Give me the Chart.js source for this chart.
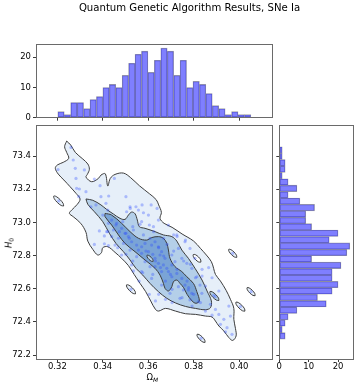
<!DOCTYPE html>
<html>
<head>
<meta charset="utf-8">
<title>Quantum Genetic Algorithm Results, SNe Ia</title>
<script src="https://cdn.jsdelivr.net/npm/chart.js@4.4.1/dist/chart.umd.min.js"></script>
<style>
html,body{margin:0;padding:0;background:#fff;overflow:hidden;}
#fig{position:relative;width:357px;height:386px;font-family:"DejaVu Sans",sans-serif;color:#000;}
#fig canvas{position:absolute;left:0;top:0;}
.txt{position:absolute;white-space:nowrap;line-height:1;}
.sub{font-size:70%;position:relative;top:0.3em;}
</style>
</head>
<body>
<div id="fig">
  <canvas id="topHist" width="357" height="386"></canvas>
  <canvas id="joint" width="357" height="386"></canvas>
  <canvas id="rightHist" width="357" height="386"></canvas>
  <div class="txt" id="title" style="left:0;width:379px;top:3px;text-align:center;font-size:10.15px;">Quantum Genetic Algorithm Results, SNe Ia</div>
  <div class="txt" id="xlab" style="left:146.5px;top:372.8px;font-size:8.46px;">Ω<span class="sub"><i>M</i></span></div>
  <div class="txt" id="ylab" style="left:8.5px;top:242.5px;font-size:8.46px;transform:translate(-50%,-50%) rotate(-90deg);"><i>H</i><span class="sub">0</span></div>
</div>
<script>
// ---------- axis ranges and ticks ----------
const omegaRange = [0.3106, 0.4145];
const h0Range = [72.176, 73.587];
const topCountRange = [0, 24.15];
const rightCountRange = [0, 25.2];
const omegaTicks = [0.32, 0.34, 0.36, 0.38, 0.40];
const omegaTickLabels = ['0.32', '0.34', '0.36', '0.38', '0.40'];
const h0Ticks = [72.2, 72.4, 72.6, 72.8, 73.0, 73.2, 73.4];
const h0TickLabels = ['72.2', '72.4', '72.6', '72.8', '73.0', '73.2', '73.4'];
const countTicks = [0, 10, 20];
const countTickLabels = ['0', '10', '20'];

// ---------- marginal histogram of Omega_M ----------
const omegaBinCenters = [0.32162,0.32445,0.32728,0.33012,0.33295,0.33578,0.33862,0.34145,0.34428,0.34712,
  0.34995,0.35278,0.35562,0.35845,0.36128,0.36412,0.36695,0.36978,0.37262,0.37545,
  0.37828,0.38112,0.38395,0.38678,0.38962,0.39245,0.39528,0.39812,0.40095,0.40378];
const omegaCounts = [2,1,5,5,3,6,7,10,11,10,14,18,21,22,15,19,23,22,14,19,10,12,11,8,4,3,1,2,1,1];

// ---------- marginal histogram of H0 ----------
const h0BinCenters = [72.3153,72.3540,72.3927,72.4313,72.4700,72.5087,72.5473,72.5860,72.6247,72.6633,
  72.7020,72.7407,72.7793,72.8180,72.8567,72.8953,72.9340,72.9727,73.0113,73.0500,
  73.0887,73.1273,73.1660,73.2047,73.2433,73.2820,73.3207,73.3593,73.3980,73.4367];
const h0Counts = [2,1,2,3,6,16,13,18,20,18,18,21,11,23,24,17,20,11,9,9,12,7,3,6,3,1,2,2,1,1];

// ---------- samples (Omega_M, H0) ----------
const samples = [
  [0.3260,73.452],[0.3270,73.376],[0.3279,73.326],[0.3319,73.316],[0.3282,73.265],[0.3285,73.205],[0.3297,73.201],[0.3294,73.155],[0.3326,73.185],[0.3363,73.261],
  [0.3388,73.221],[0.3392,73.155],[0.3426,73.159],[0.3451,73.265],[0.3502,73.155],[0.3521,73.084],[0.3546,73.094],[0.3573,73.105],[0.3579,73.058],[0.3564,72.988],
  [0.3370,73.105],[0.3348,73.094],[0.3400,73.044],[0.3422,73.074],[0.3414,73.115],[0.3458,72.984],[0.3473,72.944],[0.3385,72.948],[0.3407,72.918],[0.3422,72.944],
  [0.3613,73.105],[0.3605,72.984],[0.3517,72.904],[0.3502,72.934],[0.3488,73.004],[0.3532,72.974],
  [0.3639,73.084],[0.3712,72.924],[0.3727,72.914],[0.3764,72.893],[0.3624,72.944],[0.3668,72.904],
  [0.3363,72.867],[0.3407,72.871],[0.3466,72.847],[0.3502,72.807],[0.3532,72.767],[0.3535,72.707],[0.3560,72.646],[0.3576,72.696],[0.3590,72.827],[0.3620,72.807],
  [0.3605,72.566],[0.3620,72.686],
  [0.3756,72.767],[0.3786,72.747],[0.3808,72.666],[0.3837,72.676],[0.3852,72.616],[0.3778,72.606],[0.3749,72.546],[0.3705,72.516],[0.3676,72.536],[0.3646,72.566],
  [0.3632,72.526],[0.3874,72.506],[0.3896,72.475],[0.3911,72.445],[0.3933,72.415],[0.3947,72.365],[0.3918,72.385],[0.3881,72.440],[0.3852,72.465],[0.3962,72.435],
  [0.3969,72.325],[0.3940,72.340],[0.3837,72.717],[0.3866,72.727],[0.3881,72.666],[0.3911,72.586],[0.3712,72.827],[0.3727,72.717],[0.3676,72.646],[0.3698,72.686],
  [0.3654,72.727],[0.3705,72.596],[0.3771,72.646],[0.3800,72.566],[0.3830,72.516],[0.3793,72.495],[0.3955,72.495],[0.3632,72.767],[0.3668,72.797],[0.3646,72.847],
  [0.3683,72.867],
  [0.3439,73.014],[0.3461,72.994],[0.3483,72.964],[0.3498,72.934],[0.3513,72.914],[0.3527,72.883],[0.3549,72.863],[0.3571,72.853],[0.3586,72.873],[0.3615,72.863],
  [0.3630,72.883],[0.3645,72.853],[0.3659,72.823],[0.3674,72.783],[0.3667,72.743],[0.3645,72.753],[0.3630,72.783],[0.3601,72.823],[0.3571,72.813],[0.3557,72.833],
  [0.3689,72.703],[0.3704,72.672],[0.3726,72.692],[0.3748,72.662],[0.3762,72.622],[0.3777,72.592],[0.3792,72.572],[0.3755,72.592],[0.3733,72.612],[0.3704,72.743],
  [0.3682,72.723],[0.3659,72.703],[0.3630,72.733],[0.3608,72.733],[0.3586,72.763],[0.3549,72.793],[0.3520,72.833],[0.3491,72.873],[0.3469,72.904],[0.3447,72.954],
  [0.3425,72.994],[0.3535,72.954],[0.3579,72.924],[0.3608,72.904],[0.3652,72.803],[0.3704,72.803],[0.3718,72.763],[0.3733,72.843],[0.3726,72.924],[0.3762,72.883],
  [0.3784,72.843],[0.3806,72.783],[0.3792,72.723],[0.3770,72.753],[0.3748,72.783],[0.3814,72.672],[0.3828,72.622],[0.3836,72.572],[0.3505,73.064],[0.3557,73.074],
  [0.3601,73.044],[0.3645,73.014],[0.3689,72.984],[0.3520,73.094],[0.3571,73.004],[0.3623,72.974],[0.3454,72.863],[0.3483,72.803],[0.3527,72.743],[0.3571,72.703],
  [0.3615,72.662],[0.3659,72.622],[0.3696,72.572],[0.3740,72.542],[0.3784,72.532],[0.3821,72.522],[0.3425,72.860],[0.3439,72.914],[0.3417,72.944],
  [0.3206,73.129],[0.3203,73.318],[0.3524,72.596],[0.3972,72.813],[0.4053,72.582],[0.4006,72.492],[0.3833,72.301],[0.3888,72.560],[0.3895,72.552]
];

// ---------- density contours (Omega_M, H0) ----------
const contourOuter = [
  [0.3241,73.490],[0.3259,73.466],[0.3279,73.422],[0.3312,73.382],[0.3334,73.352],[0.3341,73.320],[0.3332,73.289],[0.3326,73.273],[0.3351,73.245],[0.3381,73.265],
  [0.3392,73.285],[0.3411,73.293],[0.3422,73.219],[0.3433,73.265],[0.3454,73.289],[0.3491,73.297],[0.3523,73.269],[0.3561,73.221],[0.3605,73.173],[0.3635,73.137],
  [0.3646,73.105],[0.3658,73.060],[0.3652,73.024],[0.3670,72.994],[0.3705,72.970],[0.3749,72.930],[0.3800,72.887],[0.3830,72.843],[0.3856,72.803],[0.3878,72.763],
  [0.3888,72.723],[0.3896,72.686],[0.3918,72.646],[0.3943,72.590],[0.3962,72.536],[0.3977,72.481],[0.3977,72.415],[0.3984,72.361],[0.3987,72.315],[0.3972,72.288],
  [0.3955,72.305],[0.3933,72.345],[0.3911,72.375],[0.3896,72.405],[0.3881,72.429],[0.3852,72.435],[0.3808,72.445],[0.3764,72.449],[0.3720,72.465],[0.3676,72.481],
  [0.3646,72.465],[0.3632,72.475],[0.3611,72.526],[0.3589,72.582],[0.3564,72.632],[0.3538,72.686],[0.3513,72.739],[0.3483,72.783],[0.3454,72.819],[0.3422,72.853],
  [0.3400,72.847],[0.3394,72.817],[0.3378,72.803],[0.3356,72.837],[0.3334,72.887],[0.3326,72.940],[0.3303,72.994],[0.3270,73.034],[0.3253,73.054],[0.3263,73.074],
  [0.3288,73.109],[0.3300,73.141],[0.3282,73.175],[0.3256,73.215],[0.3229,73.255],[0.3204,73.291],[0.3191,73.326],[0.3200,73.346],[0.3226,73.362],[0.3250,73.386],
  [0.3241,73.422],[0.3232,73.456]
];
const contourMiddle = [
  [0.3326,73.141],[0.3356,73.133],[0.3392,73.105],[0.3417,73.078],[0.3447,73.050],[0.3476,73.024],[0.3498,73.018],[0.3513,73.044],[0.3527,73.062],[0.3542,73.052],
  [0.3552,73.014],[0.3561,72.974],[0.3586,72.964],[0.3630,72.944],[0.3667,72.924],[0.3704,72.914],[0.3726,72.887],[0.3748,72.833],[0.3777,72.783],[0.3806,72.723],
  [0.3837,72.652],[0.3859,72.586],[0.3878,72.526],[0.3874,72.485],[0.3852,72.473],[0.3808,72.481],[0.3764,72.493],[0.3720,72.514],[0.3682,72.542],[0.3645,72.582],
  [0.3608,72.632],[0.3576,72.682],[0.3546,72.723],[0.3520,72.773],[0.3491,72.823],[0.3458,72.873],[0.3429,72.934],[0.3400,73.004],[0.3363,73.064],[0.3334,73.109]
];
const contourInner = [
  [0.3410,73.054],[0.3439,73.044],[0.3483,72.994],[0.3520,72.944],[0.3557,72.904],[0.3593,72.893],[0.3615,72.908],[0.3645,72.914],[0.3667,72.904],[0.3682,72.873],
  [0.3689,72.833],[0.3696,72.783],[0.3718,72.733],[0.3748,72.703],[0.3770,72.672],[0.3799,72.632],[0.3814,72.582],[0.3825,72.526],[0.3810,72.512],[0.3793,72.526],
  [0.3771,72.566],[0.3756,72.606],[0.3740,72.632],[0.3726,72.652],[0.3711,72.642],[0.3704,72.612],[0.3689,72.586],[0.3674,72.602],[0.3667,72.632],[0.3652,72.682],
  [0.3630,72.723],[0.3586,72.773],[0.3542,72.823],[0.3498,72.873],[0.3469,72.924],[0.3439,72.984],[0.3410,73.034]
];
// small closed contours (islands and holes)
const islandsOuter = [
  [[0.32277,73.0988],[0.32257,73.1135],[0.32121,73.1371],[0.31949,73.1557],[0.31841,73.1585],[0.31861,73.1437],[0.31997,73.1201],[0.32169,73.1015]],
  [[0.35441,72.5690],[0.35428,72.5829],[0.35306,72.6045],[0.35149,72.6211],[0.35047,72.6230],[0.35061,72.6091],[0.35182,72.5875],[0.35339,72.5709]],
  [[0.39899,72.7889],[0.39887,72.8015],[0.39779,72.8209],[0.39638,72.8357],[0.39546,72.8373],[0.39557,72.8247],[0.39665,72.8053],[0.39806,72.7905]],
  [[0.40706,72.5577],[0.40694,72.5703],[0.40586,72.5897],[0.40445,72.6045],[0.40353,72.6061],[0.40364,72.5935],[0.40472,72.5741],[0.40613,72.5593]],
  [[0.40256,72.4645],[0.40243,72.4784],[0.40121,72.5000],[0.39964,72.5166],[0.39862,72.5185],[0.39876,72.5046],[0.39997,72.4830],[0.40154,72.4664]],
  [[0.38504,72.2763],[0.38492,72.2889],[0.38384,72.3083],[0.38243,72.3231],[0.38151,72.3247],[0.38162,72.3121],[0.38270,72.2927],[0.38411,72.2779]]
];
const islandMiddle = [[0.39111,72.5288],[0.39098,72.5427],[0.38976,72.5643],[0.38819,72.5809],[0.38717,72.5828],[0.38731,72.5689],[0.38852,72.5473],[0.39009,72.5307]];
const holeOuter = [[0.38317,72.7602],[0.38313,72.7729],[0.38213,72.7914],[0.38078,72.8050],[0.37985,72.8056],[0.37990,72.7930],[0.38089,72.7744],[0.38224,72.7608]];
const holeInner = [[0.36216,72.7644],[0.36209,72.7744],[0.36128,72.7893],[0.36019,72.8005],[0.35946,72.8014],[0.35953,72.7914],[0.36034,72.7765],[0.36143,72.7653]];

// ---------- styles ----------
const FONT = "'DejaVu Sans', sans-serif";
Chart.defaults.font.family = FONT;
Chart.defaults.color = '#000';
const FRAME = '#6a6a6a';
const TICK = '#3a3a3a';
const TICK_FONT = {family: FONT, size: 8.46};
const BAR_FILL = 'rgba(0,0,255,0.5)';
const BAR_EDGE = 'rgba(140,140,140,0.8)';
const LEVEL_COLORS = ['rgb(230,239,249)', 'rgb(180,207,233)', 'rgb(122,164,214)'];
const CONTOUR_LINE = '#3c3c3c';
const POINT_COLOR = 'rgba(40,70,255,0.32)';

const toXY = arr => arr.map(p => ({x: p[0], y: p[1]}));
const closed = arr => toXY(arr.concat([arr[0]]));
const fixTicks = vals => (s => { s.ticks = vals.map(v => ({value: v})); });
const common = {responsive: false, animation: false, events: [], plugins: {legend: {display: false}, tooltip: {enabled: false}}};

function frameAxis(pos, range) {
  return {type: 'linear', position: pos, min: range[0], max: range[1], display: true, z: 2,
    grid: {display: false, drawTicks: false}, ticks: {display: false},
    border: {display: true, color: FRAME, width: 1},
    afterFit: s => { if (s.isHorizontal()) s.height = 0; else s.width = 0; }};
}
function tickAxis(pos, range, ticks, labels, size, showLabels, pad) {
  return {type: 'linear', position: pos, min: range[0], max: range[1], offset: false, z: 2,
    afterBuildTicks: fixTicks(ticks),
    afterFit: s => { if (s.isHorizontal()) s.height = size; else s.width = size; },
    grid: {display: true, offset: false, drawOnChartArea: false, drawTicks: true, tickLength: 3, tickColor: TICK, tickWidth: 1},
    border: {display: true, color: FRAME, width: 1},
    ticks: {display: showLabels, padding: pad, color: '#000', font: TICK_FONT, autoSkip: false, maxRotation: 0,
      callback: (v, i) => labels ? labels[i] : ''}};
}
function contourSet(data, color, order) {
  return {type: 'line', data: closed(data), borderColor: CONTOUR_LINE, borderWidth: 1, backgroundColor: color,
    fill: 'shape', pointRadius: 0, pointHoverRadius: 0, tension: 0.35, order: order};
}

// ---------- top marginal histogram ----------
new Chart(document.getElementById('topHist'), {
  type: 'bar',
  data: {datasets: [{data: omegaBinCenters.map((c, i) => ({x: c, y: omegaCounts[i]})),
    backgroundColor: BAR_FILL, borderColor: BAR_EDGE, borderWidth: 0.6, borderSkipped: false,
    barPercentage: 1, categoryPercentage: 1}]},
  options: Object.assign({}, common, {
    layout: {padding: {left: 0, right: 85, top: 44.7, bottom: 268.3}},
    scales: {
      x: tickAxis('bottom', omegaRange, omegaTicks, null, 0, false, 0),
      y: tickAxis('left', topCountRange, countTicks, countTickLabels, 36, true, 2),
      xTop: frameAxis('top', omegaRange),
      yRight: frameAxis('right', topCountRange)
    }
  })
});

// ---------- joint plot: contours + samples ----------
const jointSets = [contourSet(contourOuter, LEVEL_COLORS[0], 10)];
islandsOuter.forEach(e => jointSets.push(contourSet(e, LEVEL_COLORS[0], 9)));
jointSets.push(contourSet(holeOuter, '#ffffff', 8));
jointSets.push(contourSet(islandMiddle, LEVEL_COLORS[1], 8));
jointSets.push(contourSet(contourMiddle, LEVEL_COLORS[1], 7));
jointSets.push(contourSet(contourInner, LEVEL_COLORS[2], 6));
jointSets.push(contourSet(holeInner, LEVEL_COLORS[1], 5));
jointSets.push({type: 'scatter', data: toXY(samples), pointRadius: 1.6, pointHoverRadius: 1.6,
  backgroundColor: POINT_COLOR, borderWidth: 0, order: 0});

new Chart(document.getElementById('joint'), {
  type: 'scatter',
  data: {datasets: jointSets},
  options: Object.assign({}, common, {
    layout: {padding: {left: 0, right: 85, top: 125, bottom: 0}},
    scales: {
      x: tickAxis('bottom', omegaRange, omegaTicks, omegaTickLabels, 27, true, 0),
      y: tickAxis('left', h0Range, h0Ticks, h0TickLabels, 36, true, 2),
      xTop: frameAxis('top', omegaRange),
      yRight: frameAxis('right', h0Range)
    }
  })
});

// ---------- right marginal histogram ----------
new Chart(document.getElementById('rightHist'), {
  type: 'bar',
  data: {datasets: [{data: h0BinCenters.map((c, i) => ({x: h0Counts[i], y: c})),
    backgroundColor: BAR_FILL, borderColor: BAR_EDGE, borderWidth: 0.6, borderSkipped: false,
    barPercentage: 1, categoryPercentage: 1}]},
  options: Object.assign({}, common, {
    indexAxis: 'y',
    layout: {padding: {left: 279.3, right: 3.7, top: 125, bottom: 0}},
    scales: {
      x: tickAxis('bottom', rightCountRange, countTicks, countTickLabels, 27, true, 0),
      y: tickAxis('left', h0Range, h0Ticks, null, 0, false, 0),
      xTop: frameAxis('top', rightCountRange),
      yRight: frameAxis('right', h0Range)
    }
  })
});
</script>
</body>
</html>
